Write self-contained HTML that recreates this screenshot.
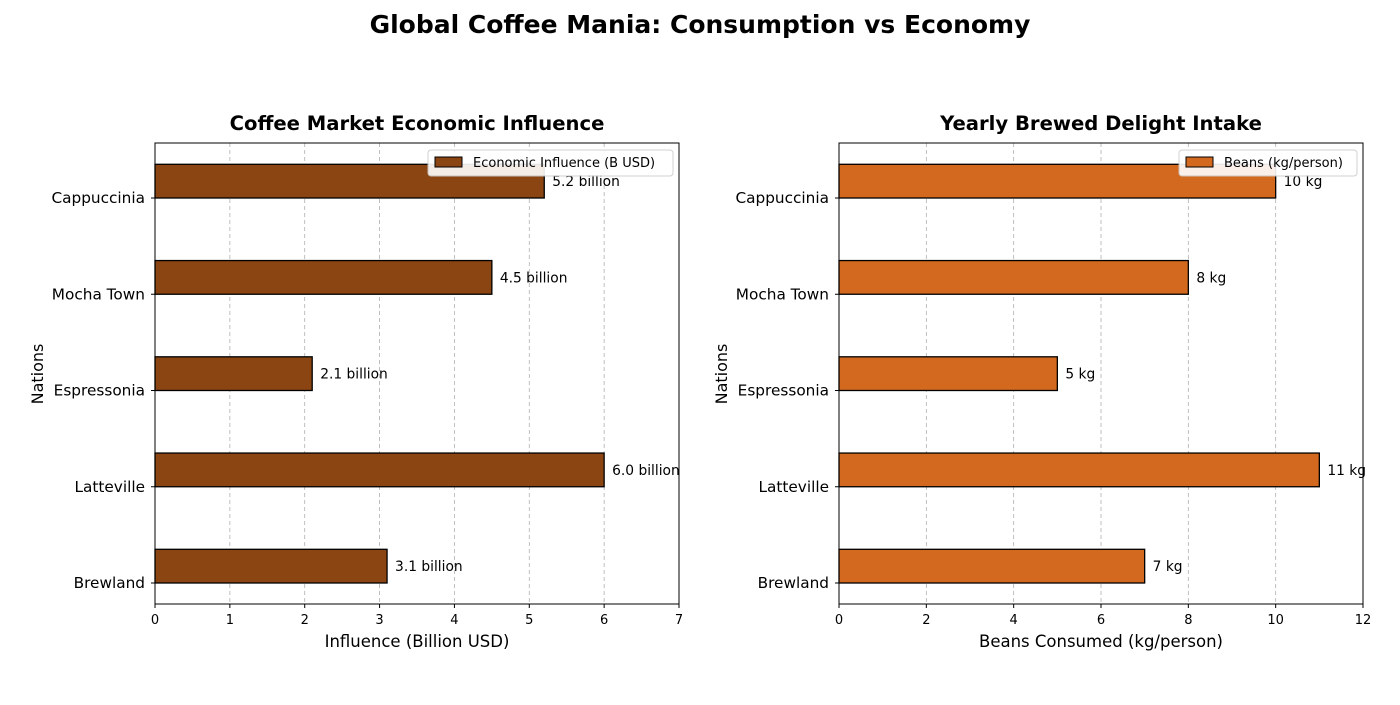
<!DOCTYPE html>
<html><head><meta charset="utf-8"><style>
body{margin:0;background:#fff;font-family:"Liberation Sans","DejaVu Sans",sans-serif}
svg text{font-family:"DejaVu Sans","Liberation Sans",sans-serif}
</style></head><body>
<svg id="c" width="1400" height="700"></svg>
<script>
const categories=["Cappuccinia","Mocha Town","Espressonia","Latteville","Brewland"];
const influence=[5.2,4.5,2.1,6.0,3.1];
const beans=[10,8,5,11,7];
const leftTicks=[0,1,2,3,4,5,6,7];
const rightTicks=[0,2,4,6,8,10,12];
const NS="http://www.w3.org/2000/svg";
const svg=document.getElementById('c');
function el(t,a,p){const e=document.createElementNS(NS,t);for(const k in a)e.setAttribute(k,a[k]);(p||svg).appendChild(e);return e;}
const T=el('text',{x:700,y:33,'text-anchor':'middle','font-size':25,'font-weight':'bold'});
T.textContent="Global Coffee Mania: Consumption vs Economy";

function yPos(i){return 198+i*96.25;}
function panel(o){
 const g=el('g',{});
 
 const x=v=>o.x0+(v/o.max)*(o.x1-o.x0);
 const top=143,bot=604;
 o.ticks.forEach(t=>{
  el('line',{x1:x(t),x2:x(t),y1:top,y2:bot,stroke:'#b0b0b0','stroke-dasharray':'4,3','stroke-width':0.8},g);
  el('line',{x1:x(t),x2:x(t),y1:bot,y2:bot+4,stroke:'#000'},g);
  const tl=el('text',{x:x(t),y:bot+20,'text-anchor':'middle','font-size':13},g);tl.textContent=t;
  
 });
 categories.forEach((c,i)=>{
  const y=yPos(i),h=33.7,v=o.vals[i];
  const b=el('rect',{x:o.x0,y:y-h,width:x(v)-o.x0,height:h,fill:o.color,stroke:'#000','stroke-width':1.3},g);
  
  el('line',{x1:o.x0-4,x2:o.x0,y1:y,y2:y,stroke:'#000'},g);
  const cl=el('text',{x:o.x0-10,y:y+5,'text-anchor':'end','font-size':15.3},g);cl.textContent=c;
  
  const vl=el('text',{x:x(v)+8,y:y-h/2+5,'font-size':13.8},g);vl.textContent=o.fmt(v);
  
 });
 el('rect',{x:o.x0,y:top,width:o.x1-o.x0,height:bot-top,fill:'none',stroke:'#000','stroke-width':1},g);
 const tt=el('text',{x:(o.x0+o.x1)/2,y:130,'text-anchor':'middle','font-size':19.6,'font-weight':'bold'},g);tt.textContent=o.title;
 
 const xl=el('text',{x:(o.x0+o.x1)/2,y:647,'text-anchor':'middle','font-size':16.5},g);xl.textContent=o.xlabel;
 
 const yl=el('text',{x:0,y:0,'text-anchor':'middle','font-size':16,transform:`translate(${o.x0-112},374) rotate(-90)`},g);yl.textContent="Nations";
 
 const lg=el('g',{},g);
 el('rect',{x:o.x1-6-o.lw,y:150,width:o.lw,height:26,fill:'#fff',stroke:'#ccc',rx:3,opacity:0.9},lg);
 el('rect',{x:o.x1-6-o.lw+7,y:157,width:27,height:10,fill:o.color,stroke:'#000'},lg);
 const lt=el('text',{x:o.x1-6-o.lw+45,y:167,'font-size':13},lg);lt.textContent=o.legend;
}
panel({name:'influence-panel',x0:155,x1:679,max:7,ticks:leftTicks,vals:influence,color:'#8b4513',
 fmt:v=>v.toFixed(1)+' billion',title:'Coffee Market Economic Influence',xlabel:'Influence (Billion USD)',legend:'Economic Influence (B USD)',lw:245});
panel({name:'beans-panel',x0:839,x1:1363,max:12,ticks:rightTicks,vals:beans,color:'#d2691e',
 fmt:v=>v+' kg',title:'Yearly Brewed Delight Intake',xlabel:'Beans Consumed (kg/person)',legend:'Beans (kg/person)',lw:178});
</script>
</body></html>
